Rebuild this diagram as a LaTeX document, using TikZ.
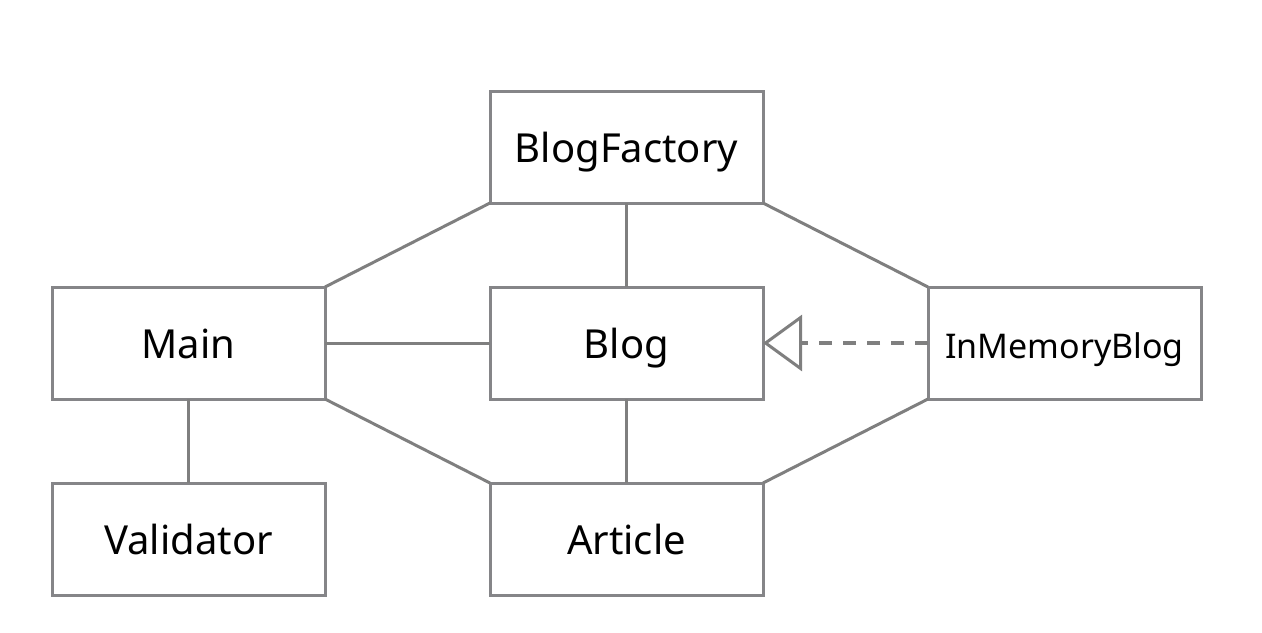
\documentclass[tikz,border=0pt]{standalone}
\usepackage{fontspec}
\newfontfamily\diafont{Noto Sans}
\usetikzlibrary{arrows.meta,positioning}
\definecolor{boxgray}{HTML}{858588}
\definecolor{linegray}{HTML}{7F7F7F}
\tikzset{
  cls/.style     ={draw=boxgray, line width=1.5pt, minimum width=136.5pt,
                   minimum height=56pt, inner sep=0pt, outer sep=0pt,
                   text height=15pt, text depth=0pt,
                   font=\diafont\fontsize{20}{24}\selectfont},
  smallcls/.style={cls, font=\diafont\fontsize{17}{20}\selectfont},
  assoc/.style   ={draw=linegray, line width=1.5pt},
  realize/.style ={draw=linegray, line width=2.4pt, dash pattern=on 6.5pt off 5.5pt,
                   -{Triangle[open, length=19.5pt, width=28pt, line width=1.5pt, fill=white]}},
}
\begin{document}
\begin{tikzpicture}[node distance=42pt and 82.5pt]
\useasboundingbox (0,0) rectangle (631pt,-316pt);
\node[cls] (main) at (94.25pt,-171.5pt) {Main};
\node[cls, right=of main] (blog) {Blog};
\node[smallcls, right=of blog] (imb) {InMemoryBlog};
\node[cls, above=of blog] (factory) {BlogFactory};
\node[cls, below=of main] (validator) {Validator};
\node[cls, below=of blog] (article) {Article};
\draw[assoc] (factory.south west) -- (main.north east);
\draw[assoc] (factory.south east) -- (imb.north west);
\draw[assoc] (factory) -- (blog);
\draw[assoc] (main) -- (blog);
\draw[assoc] (main) -- (validator);
\draw[assoc] (blog) -- (article);
\draw[assoc] (main.south east) -- (article.north west);
\draw[assoc] (imb.south west) -- (article.north east);
\draw[realize] (imb) -- (blog);
\end{tikzpicture}
\end{document}
